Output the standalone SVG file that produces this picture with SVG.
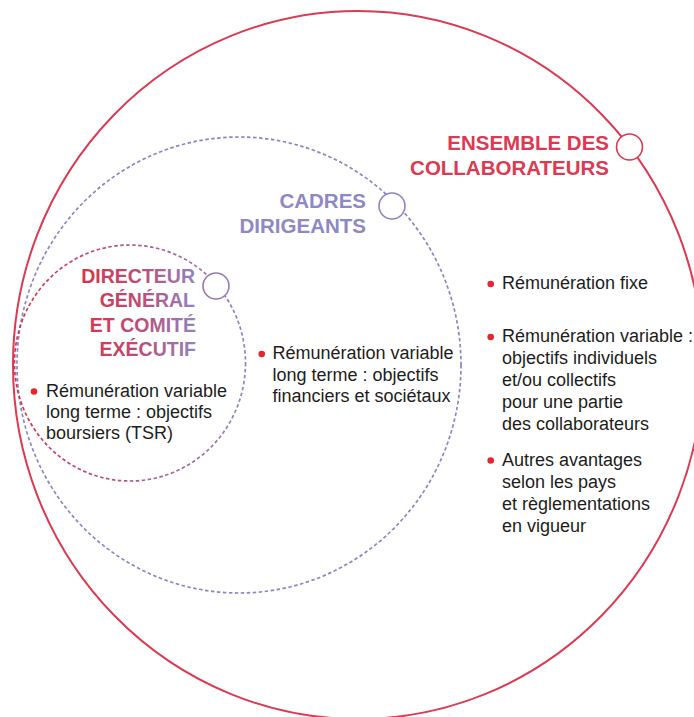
<svg xmlns="http://www.w3.org/2000/svg" width="694" height="717" viewBox="0 0 694 717">
<defs>
<linearGradient id="dgStroke" gradientUnits="userSpaceOnUse" x1="14" y1="0" x2="246" y2="0">
<stop offset="0" stop-color="#D8344E"/>
<stop offset="0.55" stop-color="#B25A8A"/>
<stop offset="1" stop-color="#8C86C4"/>
</linearGradient>
<linearGradient id="dgText" gradientUnits="userSpaceOnUse" x1="78" y1="0" x2="197" y2="0">
<stop offset="0" stop-color="#D8344E"/>
<stop offset="0.5" stop-color="#C04A72"/>
<stop offset="1" stop-color="#8E86C4"/>
</linearGradient>
<style>
.title{font-family:"Liberation Sans",Arial,sans-serif;font-weight:bold;text-anchor:end}
.body{font-family:"Liberation Sans",Arial,sans-serif;font-size:18px;fill:#1d1d1b}
.dot{fill:#E52630}
.knob{fill:#ffffff;stroke-width:1.6}
</style>
</defs>
<rect width="694" height="717" fill="#ffffff"/>

<g id="ensemble">
<ellipse cx="358" cy="365" rx="345" ry="354" fill="none" stroke="#DC3A52" stroke-width="2"/>
<circle class="knob" cx="629.5" cy="147" r="13" stroke="#DC3A52"/>
<text class="title" x="609" y="149.5" font-size="20.5" fill="#DC3A52">ENSEMBLE DES</text>
<text class="title" x="609" y="174.5" font-size="20.5" fill="#DC3A52">COLLABORATEURS</text>
<circle class="dot" cx="490.7" cy="284" r="3.3"/>
<text class="body" x="502" y="289">Rémunération fixe</text>
<circle class="dot" cx="490.7" cy="337" r="3.3"/>
<text class="body" x="502" y="342">Rémunération variable :</text>
<text class="body" x="502" y="364">objectifs individuels</text>
<text class="body" x="502" y="386">et/ou collectifs</text>
<text class="body" x="502" y="408">pour une partie</text>
<text class="body" x="502" y="430">des collaborateurs</text>
<circle class="dot" cx="490.7" cy="460.5" r="3.3"/>
<text class="body" x="502" y="465.5">Autres avantages</text>
<text class="body" x="502" y="487.5">selon les pays</text>
<text class="body" x="502" y="509.5">et règlementations</text>
<text class="body" x="502" y="531.5">en vigueur</text>
</g>

<g id="cadres">
<ellipse cx="239" cy="365" rx="222" ry="228" fill="none" stroke="#8C86C4" stroke-width="1.7" stroke-dasharray="3.5 2.5"/>
<circle class="knob" cx="392" cy="206" r="13" stroke="#8C86C4"/>
<text class="title" x="366" y="208" font-size="20.5" fill="#8E88C6">CADRES</text>
<text class="title" x="366" y="233" font-size="20.5" fill="#8E88C6">DIRIGEANTS</text>
<circle class="dot" cx="261.7" cy="354" r="3.3"/>
<text class="body" x="272.5" y="359">Rémunération variable</text>
<text class="body" x="272.5" y="380.5">long terme : objectifs</text>
<text class="body" x="272.5" y="402">financiers et sociétaux</text>
</g>

<g id="directeur">
<ellipse cx="130" cy="363" rx="115.5" ry="118" fill="none" stroke="url(#dgStroke)" stroke-width="1.7" stroke-dasharray="3.5 2.5"/>
<circle class="knob" cx="216" cy="286" r="13" stroke="url(#dgStroke)"/>
<text class="title" x="195" y="283" font-size="19.5" fill="url(#dgText)">DIRECTEUR</text>
<text class="title" x="195" y="307.3" font-size="19.5" fill="url(#dgText)">GÉNÉRAL</text>
<text class="title" x="196" y="331.6" font-size="19.5" fill="url(#dgText)">ET COMITÉ</text>
<text class="title" x="196" y="356" font-size="19.5" fill="url(#dgText)">EXÉCUTIF</text>
<circle class="dot" cx="34" cy="391.5" r="3.3"/>
<text class="body" x="46" y="396.5">Rémunération variable</text>
<text class="body" x="46" y="417.5">long terme : objectifs</text>
<text class="body" x="46" y="438.5">boursiers (TSR)</text>
</g>
</svg>
